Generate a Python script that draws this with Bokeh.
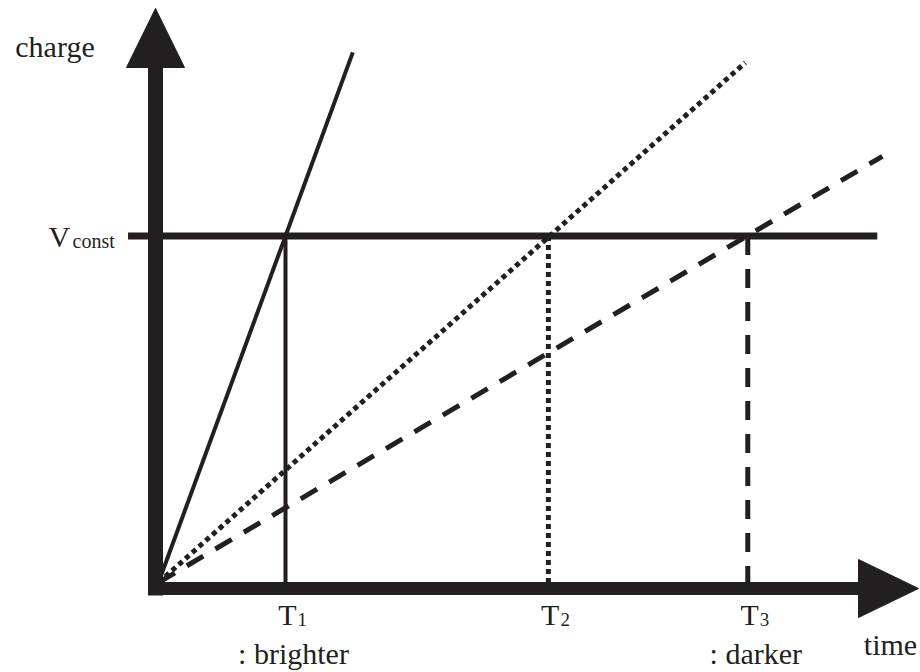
from bokeh.plotting import figure
from bokeh.models import Range1d
from bokeh.core.properties import value
from bokeh.embed import file_html
from bokeh.resources import INLINE

# ---------------- data ----------------
threshold_names = ["T", "T", "T"]
threshold_subscripts = ["1", "2", "3"]
threshold_times = [1.00, 3.07, 4.64]          # T1, T2, T3 (time units)
threshold_notes = [": brighter", "", ": darker"]
ramp_end_times = [1.53, 4.62, 5.70]           # where each charge ramp ends
ramp_end_charges = [1.53, 1.50, 1.23]         # charge at that end
ramp_dashes = ["solid", "5 4", "19 14"]
v_const = 1.0
v_const_span = [-0.24, 5.66]                  # time extent of the V_const line
axis_titles = ["time", "charge"]

# ---------------- styling / layout ----------------
INK = "#231f20"
FONT = value("Liberation Serif")
W, H = 920, 672
PX_X = 127.0      # pixels per time unit
PX_Y = 346.5      # pixels per charge unit
OX, OY = 158, 582 # origin position in plot pixels (from top-left)
BL = -11          # baseline correction for svg text (pixels)


def dx(px):
    return px / PX_X


def dy(px):
    return px / PX_Y


x_start, x_end = -OX / PX_X, (W - OX) / PX_X
y_end, y_start = OY / PX_Y, -(H - OY) / PX_Y

p = figure(width=W, height=H, x_range=Range1d(x_start, x_end),
           y_range=Range1d(y_start, y_end), output_backend="svg",
           toolbar_location=None, x_axis_location=None, y_axis_location=None,
           min_border=0)
p.outline_line_color = None
p.background_fill_color = "white"
p.border_fill_color = "white"
p.xgrid.visible = False
p.ygrid.visible = False

# ---- axes drawn as thick arrows ----
ax_x = dx(-3)            # y-axis position
ax_y = dy(-6)            # x-axis position
# y axis
y_tip = y_end - dy(8)
y_base = y_tip - dy(59)
p.line([ax_x, ax_x], [dy(-13), y_base + dy(2)], line_width=15, color=INK)
p.patch([ax_x - dx(29), ax_x, ax_x + dx(29)], [y_base, y_tip, y_base],
        fill_color=INK, line_color=INK, line_width=1)
# x axis
x_tip = x_end - dx(2)
x_base = x_tip - dx(60)
p.line([dx(-10), x_base + dx(2)], [ax_y, ax_y], line_width=13, color=INK)
p.patch([x_base, x_tip, x_base], [ax_y + dy(29), ax_y, ax_y - dy(29)],
        fill_color=INK, line_color=INK, line_width=1)

# ---- V_const line ----
p.line(v_const_span, [v_const, v_const], line_width=7, color=INK)

# ---- charge ramps and drop lines ----
ramp_widths = [4, 5, 5]
drop_widths = [4, 5, 5]
for i in range(3):
    p.line([0, ramp_end_times[i]], [0, ramp_end_charges[i]],
           line_width=ramp_widths[i], line_dash=ramp_dashes[i], color=INK)
    p.line([threshold_times[i], threshold_times[i]], [v_const, 0],
           line_width=drop_widths[i], line_dash=ramp_dashes[i], color=INK)

# ---- texts ----
p.text(x=threshold_times, y=[dy(-43)] * 3, text=threshold_names,
       text_font=FONT, text_font_size="30px", text_color=INK,
       text_align="right", text_baseline="alphabetic", x_offset=11, y_offset=BL)
p.text(x=threshold_times, y=[dy(-43)] * 3, text=threshold_subscripts,
       text_font=FONT, text_font_size="19px", text_color=INK,
       text_align="left", text_baseline="alphabetic", x_offset=12,
       y_offset=BL + 5)
p.text(x=threshold_times, y=[dy(-82)] * 3, text=threshold_notes,
       text_font=FONT, text_font_size="30px", text_color=INK,
       text_align="center", text_baseline="alphabetic", x_offset=8, y_offset=BL)

# axis titles
p.text(x=[x_end - dx(30)], y=[dy(-73)], text=[axis_titles[0]],
       text_font=FONT, text_font_size="30px", text_color=INK,
       text_align="center", text_baseline="alphabetic", y_offset=BL)
p.text(x=[dx(-103.5)], y=[dy(525)], text=[axis_titles[1]],
       text_font=FONT, text_font_size="30px", text_color=INK,
       text_align="center", text_baseline="alphabetic", y_offset=BL)

# V_const label
p.text(x=[dx(-110)], y=[v_const - dy(11.5)], text=["V"],
       text_font=FONT, text_font_size="30px", text_color=INK,
       text_align="left", text_baseline="alphabetic", y_offset=BL)
p.text(x=[dx(-86)], y=[v_const - dy(11.5)], text=["const"],
       text_font=FONT, text_font_size="20px", text_color=INK,
       text_align="left", text_baseline="alphabetic", y_offset=BL + 4)

open("out.html", "w").write(file_html(p, INLINE))
